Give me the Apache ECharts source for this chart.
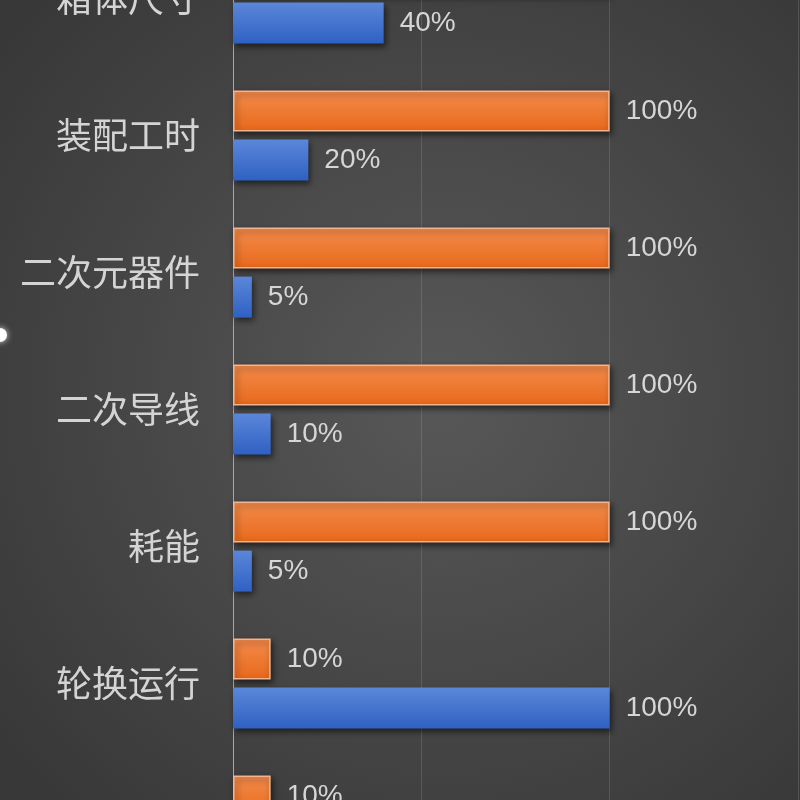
<!DOCTYPE html>
<html>
<head>
<meta charset="utf-8">
<script src="https://cdn.jsdelivr.net/npm/echarts@6/dist/echarts.min.js"></script>
<style>html,body{margin:0;padding:0;background:#444;overflow:hidden;width:800px;height:800px;position:relative;}#c{position:absolute;left:0;top:-70px;width:800px;height:1100px;}</style>
</head>
<body>
<div id="c"></div>
<script>
const categories = ['箱体尺寸', '装配工时', '二次元器件', '二次导线', '耗能', '轮换运行', '运维检修'];
const seriesNames = ['系列1', '系列2'];
const orangeValues = [100, 100, 100, 100, 100, 10, 10];
const blueValues = [40, 20, 5, 10, 5, 100, 100];
const xTicks = [0, 50, 100, 150];

const chart = echarts.init(document.getElementById('c'), null, {renderer: 'canvas'});
const labelStyle = {
  show: true, position: 'right', distance: 16,
  formatter: '{c}%', color: '#d6d6d6',
  fontFamily: '"Liberation Sans Narrow", "Liberation Sans", sans-serif', fontSize: 28
};
chart.setOption({
  backgroundColor: {
    type: 'radial', x: 0.55, y: 0.42, r: 0.7,
    colorStops: [{offset: 0, color: '#585858'}, {offset: 1, color: '#383838'}]
  },
  animation: false,
  grid: {left: 233, right: 2, top: 0, height: 959, containLabel: false},
  xAxis: {
    type: 'value', min: xTicks[0], max: xTicks[xTicks.length - 1], interval: 50,
    axisLabel: {show: false}, axisLine: {show: false}, axisTick: {show: false},
    splitLine: {show: true, lineStyle: {color: 'rgba(255,255,255,0.13)', width: 1}}
  },
  yAxis: {
    type: 'category', data: categories, inverse: true,
    axisTick: {show: false},
    axisLine: {show: true, lineStyle: {color: '#a8a8a8', width: 1}},
    axisLabel: {color: '#d4d4d4', fontSize: 36, margin: 33, fontFamily: '"Noto Sans CJK SC", sans-serif'}
  },
  series: [
    {
      name: seriesNames[0], type: 'bar', data: orangeValues,
      barWidth: 41, barGap: '20%',
      itemStyle: {
        color: {type: 'linear', x: 0, y: 0, x2: 0, y2: 1,
          colorStops: [{offset: 0, color: '#f38b4c'}, {offset: 1, color: '#e8691b'}]},
        borderColor: '#f4b48e', borderWidth: 1.5,
        shadowColor: 'rgba(0,0,0,0.55)', shadowBlur: 6, shadowOffsetX: 2, shadowOffsetY: 3
      },
      label: labelStyle
    },
    {
      name: seriesNames[1], type: 'bar', data: blueValues,
      barWidth: 41, barGap: '20%',
      itemStyle: {
        color: {type: 'linear', x: 0, y: 0, x2: 0, y2: 1,
          colorStops: [{offset: 0, color: '#5b87d9'}, {offset: 1, color: '#2f61c3'}]},
        shadowColor: 'rgba(0,0,0,0.55)', shadowBlur: 6, shadowOffsetX: 2, shadowOffsetY: 3
      },
      label: labelStyle
    }
  ],
  graphic: [{
    type: 'circle', shape: {cx: 0, cy: 405, r: 7},
    style: {fill: '#ffffff', shadowBlur: 6, shadowColor: 'rgba(255,255,255,0.8)'}
  }]
});
</script>
</body>
</html>
